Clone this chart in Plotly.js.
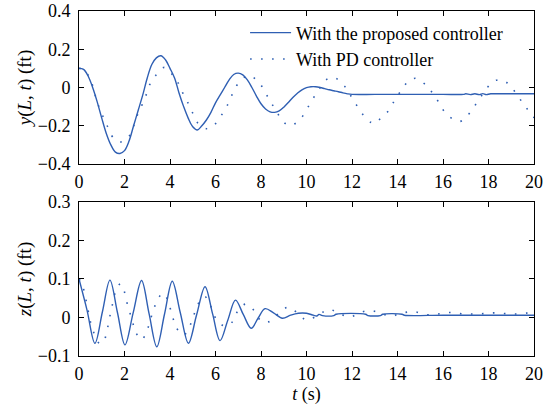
<!DOCTYPE html>
<html>
<head>
<meta charset="utf-8">
<script src="https://cdn.plot.ly/plotly-3.0.1.min.js"></script>
<style>html,body{margin:0;padding:0;background:#fff;}#plot{width:550px;height:408px;}</style>
</head>
<body>
<div id="plot"></div>
<script>
// ---- Data ----
// Top panel: y(L,t) with the proposed controller
var tTop = [0,0.2,0.4,0.6,0.8,1.0,1.2,1.4,1.6,1.8,2.0,2.2,2.4,2.6,2.8,3.0,3.2,3.4,3.6,3.8,4.0,4.2,4.4,4.6,4.8,5.0,5.2,5.4,5.6,5.8,6.0,6.2,6.4,6.6,6.8,7.0,7.2,7.4,7.6,7.8,8.0,8.2,8.4,8.6,8.8,9.0,9.2,9.4,9.6,9.8,10.0,10.2,10.4,10.6,10.8,11.0,11.2,11.4,11.6,11.8,12.0,13,14,15,16,16.9,17.0,17.2,17.4,17.6,17.75,17.9,18.1,19,20];
var yProp = [0.10,0.095,0.06,0.0,-0.075,-0.16,-0.24,-0.30,-0.338,-0.345,-0.33,-0.28,-0.20,-0.12,-0.04,0.05,0.12,0.155,0.166,0.145,0.10,0.05,-0.03,-0.10,-0.16,-0.205,-0.222,-0.20,-0.17,-0.13,-0.08,-0.04,0.0,0.04,0.068,0.075,0.066,0.04,0.0,-0.045,-0.085,-0.112,-0.127,-0.13,-0.122,-0.103,-0.078,-0.052,-0.03,-0.012,-0.001,0.004,0.004,0.0,-0.006,-0.012,-0.017,-0.022,-0.028,-0.033,-0.036,-0.036,-0.036,-0.036,-0.036,-0.036,-0.033,-0.037,-0.033,-0.037,-0.032,-0.037,-0.033,-0.033,-0.033];
// Top panel: y(L,t) with PD controller
var tPD = [0,0.2,0.4,0.6,0.73,0.89,1.08,1.24,1.44,1.62,1.82,2.03,2.24,2.42,2.58,2.78,2.96,3.12,3.40,3.75,4.12,4.41,4.60,4.84,5.04,5.27,5.65,5.95,6.12,6.40,6.64,6.81,7.11,7.45,7.91,8.18,8.42,8.68,8.95,9.25,9.55,9.79,10.05,10.29,10.55,10.84,11.2,11.66,11.93,12.20,12.47,12.82,13.03,13.26,13.63,13.86,14.15,14.46,14.8,15.28,15.6,15.87,16.13,16.7,16.97,17.30,17.57,17.85,18.18,18.45,18.75,19.05,19.34,19.63,19.97,20];
var yPD = [0.10,0.095,0.065,0.01,-0.048,-0.106,-0.158,-0.20,-0.252,-0.275,-0.285,-0.275,-0.248,-0.195,-0.14,-0.088,-0.036,0.018,0.067,0.105,0.065,0.013,-0.039,-0.092,-0.144,-0.193,-0.216,-0.195,-0.17,-0.118,-0.065,-0.013,0.036,0.063,0.027,-0.025,-0.074,-0.125,-0.175,-0.2,-0.185,-0.156,-0.106,-0.057,-0.01,0.039,0.053,0.009,-0.04,-0.092,-0.14,-0.182,-0.187,-0.161,-0.118,-0.069,-0.018,0.030,0.048,0.009,-0.04,-0.088,-0.137,-0.178,-0.161,-0.112,-0.065,-0.017,0.029,0.04,0.03,-0.006,-0.053,-0.102,-0.149,-0.16];
// Bottom panel: z(L,t) with the proposed controller
var tZ = [0,0.35,0.70,1.03,1.36,1.69,2.02,2.38,2.75,3.08,3.42,3.76,4.10,4.45,4.81,5.17,5.54,5.87,6.20,6.54,6.88,7.22,7.57,7.87,8.18,8.55,8.94,9.3,9.64,10.0,10.3,10.45,10.55,10.7,11.2,11.3,12.6,12.7,13.25,13.35,14.2,14.3,16,18,20];
var zProp = [0.10,0.02,-0.067,0.015,0.097,0.013,-0.071,0.012,0.096,0.01,-0.076,0.009,0.094,0.013,-0.067,0.007,0.080,0.01,-0.060,-0.007,0.045,0.008,-0.028,-0.002,0.023,0.012,-0.002,0.006,0.011,0.011,0.006,0.004,0.008,0.005,0.005,0.0085,0.0085,0.005,0.005,0.0085,0.0085,0.006,0.006,0.006,0.006];
// Bottom panel: z(L,t) with PD controller
var tZP = [0,0.1,0.22,0.31,0.41,0.51,0.66,0.85,0.95,1.1,1.24,1.33,1.44,1.54,1.70,1.85,1.98,2.1,2.24,2.37,2.49,2.75,2.99,3.14,3.29,3.46,3.71,3.90,4.07,4.22,4.44,4.62,4.81,4.98,5.2,5.39,5.55,5.75,6.05,6.4,6.75,6.96,7.33,7.71,7.98,8.2,8.41,8.8,9.2,9.6,10.0,10.5,10.98,11.4,11.9,12.35,12.84,13.3,13.74,14.22,14.74,15.28,15.77,16.26,16.76,17.26,17.76,18.26,18.76,19.27,19.78,20];
var zPD = [0.10,0.09,0.07,0.045,0.015,-0.013,-0.041,-0.065,-0.068,-0.06,-0.032,-0.004,0.025,0.054,0.082,0.087,0.07,0.04,0.012,-0.015,-0.038,-0.058,-0.034,-0.005,0.022,0.048,0.063,0.045,0.011,-0.017,-0.041,-0.045,-0.031,-0.005,0.03,0.05,0.054,0.035,-0.006,-0.022,-0.011,0.015,0.035,0.017,-0.008,-0.013,-0.009,0.012,0.027,0.012,-0.007,0.006,0.021,0.012,0.001,0.013,0.018,0.01,0.004,0.012,0.015,0.007,0.009,0.013,0.01,0.009,0.01,0.012,0.01,0.009,0.012,0.011];

var seriesNames = ['With the proposed controller', 'With PD controller'];
var xTickVals = [0,2,4,6,8,10,12,14,16,18,20];

// ---- Styles ----
var blue = '#2f5fb3';
var FONT = 'Liberation Serif, Times New Roman, serif';
var FS = 18;
var solid = {color: blue, width: 1.4, shape: 'spline', smoothing: 1};
var dotted = {color: blue, width: 1.6, shape: 'spline', smoothing: 1, dash: '1.6px,9.4px'};

var traces = [
  {x: tTop, y: yProp, name: seriesNames[0], type: 'scatter', mode: 'lines', line: solid, xaxis: 'x', yaxis: 'y'},
  {x: tPD, y: yPD, name: seriesNames[1], type: 'scatter', mode: 'lines', line: dotted, xaxis: 'x', yaxis: 'y'},
  {x: tZ, y: zProp, name: seriesNames[0], type: 'scatter', mode: 'lines', line: solid, xaxis: 'x2', yaxis: 'y2', showlegend: false},
  {x: tZP, y: zPD, name: seriesNames[1], type: 'scatter', mode: 'lines', line: dotted, xaxis: 'x2', yaxis: 'y2', showlegend: false}
];

function xAx(anchor, withTitle) {
  var a = {
    range: [0, 20], tickvals: xTickVals, anchor: anchor,
    showline: true, linecolor: '#000', linewidth: 1, mirror: 'ticks',
    ticks: 'inside', ticklen: 5, tickcolor: '#000', tickwidth: 1,
    showgrid: false, zeroline: false, ticklabelstandoff: 1,
    tickfont: {family: FONT, size: FS, color: '#000'}
  };
  if (withTitle) a.title = {text: '<i>t</i> (s)', font: {family: FONT, size: FS, color: '#000'}, standoff: 4};
  return a;
}
function yAx(anchor, range, dtick, domain, title) {
  return {
    range: range, dtick: dtick, tick0: 0, anchor: anchor, domain: domain,
    showline: true, linecolor: '#000', linewidth: 1, mirror: 'ticks',
    ticks: 'inside', ticklen: 5, tickcolor: '#000', tickwidth: 1,
    showgrid: false, zeroline: false, ticklabelstandoff: 4,
    tickfont: {family: FONT, size: FS, color: '#000'},
    title: {text: title, font: {family: FONT, size: 19, color: '#000'}, standoff: 1}
  };
}

var layout = {
  width: 550, height: 408,
  margin: {l: 79, r: 16, t: 11, b: 52},
  paper_bgcolor: '#fff', plot_bgcolor: '#fff',
  showlegend: true,
  legend: {x: 0.365, y: 0.99, xanchor: 'left', yanchor: 'top', bgcolor: 'rgba(0,0,0,0)',
           itemwidth: 41,
           font: {family: FONT, size: FS, color: '#000'}, tracegroupgap: 0},
  xaxis: xAx('y', false),
  yaxis: yAx('x', [-0.4, 0.4], 0.2, [0.5565, 1], '<i>y</i>(<i>L</i>, <i>t</i>) (ft)'),
  xaxis2: xAx('y2', true),
  yaxis2: yAx('x2', [-0.1, 0.3], 0.1, [0, 0.4464], '<i>z</i>(<i>L</i>, <i>t</i>) (ft)')
};

Plotly.newPlot('plot', traces, layout, {staticPlot: true, displayModeBar: false});
</script>
</body>
</html>
